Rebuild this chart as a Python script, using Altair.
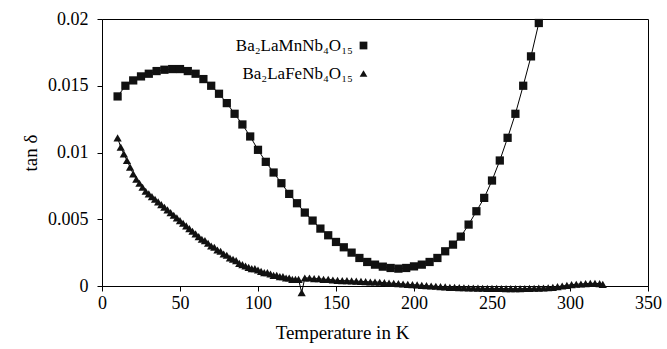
import altair as alt
import pandas as pd

# Ba2LaMnNb4O15 (squares)
mn_T = [10, 15, 20, 25, 30, 35, 40, 45, 50, 55, 60, 65, 70, 75, 80, 85, 90, 95, 100,
        105, 110, 115, 120, 125, 130, 135, 140, 145, 150, 155, 160, 165, 170, 175, 180,
        185, 190, 195, 200, 205, 210, 215, 220, 225, 230, 235, 240, 245, 250, 255, 260,
        265, 270, 275, 280]
mn_tan = [0.0142, 0.0150, 0.0154, 0.0157, 0.0159, 0.0161, 0.0162, 0.01625, 0.01625, 0.0161,
          0.0159, 0.0155, 0.0150, 0.0144, 0.0137, 0.0129, 0.0121, 0.0112, 0.0102,
          0.0093, 0.0085, 0.0077, 0.0069, 0.0062, 0.0055, 0.0049, 0.0043, 0.0038, 0.0033,
          0.0029, 0.0025, 0.0021, 0.0018, 0.0016, 0.00145, 0.00135, 0.0013, 0.00135, 0.00147,
          0.0016, 0.0018, 0.0021, 0.0026, 0.0031, 0.0037, 0.0046, 0.0056, 0.0066, 0.0079,
          0.0094, 0.0111, 0.0129, 0.0150, 0.0172, 0.0197]

# Ba2LaFeNb4O15 (triangles)
fe_T = [10, 12, 14, 16, 18, 20, 22, 24, 26, 28, 30, 32, 34, 36, 38, 40, 42, 44, 46, 48,
        50, 52, 54, 56, 58, 60, 62, 64, 66, 68, 70, 72, 74, 76, 78, 80, 82, 84, 86, 88,
        90, 92, 94, 96, 98, 100, 102, 104, 106, 108, 110, 112, 114, 116, 118, 120, 122,
        124, 126, 128, 130, 133, 136, 139, 142, 145, 148, 151, 154, 157, 160, 163, 166,
        169, 172, 175, 178, 181, 184, 187, 190, 193, 196, 199, 202, 205, 208, 211, 214,
        217, 220, 223, 226, 229, 232, 235, 238, 241, 244, 247, 250, 253, 256, 259, 262,
        265, 268, 271, 274, 277, 280, 283, 286, 289, 292, 295, 298, 301, 304, 307, 310,
        313, 316, 319, 321]
fe_tan = [0.0111, 0.0104, 0.0099, 0.0094, 0.0089, 0.0084, 0.0080, 0.0077, 0.0074, 0.0071,
          0.0069, 0.0067, 0.0065, 0.0063, 0.0061, 0.0059, 0.0057, 0.0055, 0.0053, 0.0051,
          0.0049, 0.0047, 0.0045, 0.0043, 0.0041, 0.0039, 0.0037, 0.0035, 0.0034, 0.0032,
          0.0030, 0.0029, 0.0027, 0.0026, 0.0024, 0.0023, 0.0021, 0.0020, 0.0019, 0.0017,
          0.0016, 0.0015, 0.0014, 0.0013, 0.0013, 0.0012, 0.0011, 0.0010, 0.0010, 0.0009,
          0.0008, 0.0008, 0.0007, 0.0007, 0.0006, 0.0006, 0.0005, 0.0005, 0.0005, -0.0005,
          0.0006, 0.0006, 0.00055, 0.00055, 0.0005, 0.0005, 0.00045, 0.00042, 0.0004, 0.0004,
          0.00038, 0.00036, 0.00035, 0.00033, 0.0003, 0.0003, 0.00028, 0.00025, 0.00022,
          0.0002, 0.00018, 0.00015, 0.00012, 0.0001, 0.00008, 0.00005, 0.00003, 0.0,
          -0.00002, -0.00005, -0.00007, -0.0001, -0.0001, -0.00012, -0.00013, -0.00015,
          -0.00015, -0.00016, -0.00017, -0.00018, -0.00018, -0.00018, -0.00019, -0.0002,
          -0.0002, -0.0002, -0.0002, -0.00019, -0.00018, -0.00017, -0.00016, -0.00015,
          -0.00013, -0.0001, -0.00005, 0.0, 0.00005, 0.0001, 0.00013, 0.00015, 0.00018,
          0.0002, 0.0002, 0.00018, 0.00012]

series_names = ["Ba₂LaMnNb₄O₁₅", "Ba₂LaFeNb₄O₁₅"]
x_ticks = [0, 50, 100, 150, 200, 250, 300, 350]
y_ticks = [0, 0.005, 0.01, 0.015, 0.02]

df = pd.concat([
    pd.DataFrame({"T": mn_T, "tan": mn_tan, "series": series_names[0]}),
    pd.DataFrame({"T": fe_T, "tan": fe_tan, "series": series_names[1]}),
])

FONT = "Liberation Serif"

base = alt.Chart(df).encode(
    x=alt.X("T:Q", scale=alt.Scale(domain=[0, 350], nice=False),
            axis=alt.Axis(values=x_ticks, title="Temperature in K", labelFlush=False,
                          titleX=240, titleY=52, titleBaseline="alphabetic",
                          titleAlign="center")),
    y=alt.Y("tan:Q", scale=alt.Scale(domain=[0, 0.02], nice=False, zero=False),
            axis=alt.Axis(values=y_ticks, title="tan δ", labelExpr="format(datum.value, '.3~f')",
                          labelPadding=9, titleX=-66, titleBaseline="alphabetic")),
)

line = base.mark_line(color="black", strokeWidth=1).encode(detail="series:N", order="T:Q")

pts = base.mark_point(filled=True, opacity=1, size=68, color="#111111").encode(
    shape=alt.Shape("series:N", sort=series_names,
                    scale=alt.Scale(domain=series_names, range=["square", "triangle-up"]),
                    legend=alt.Legend(title=None, orient="none", legendX=253, legendY=18,
                                      labelAlign="right", labelOffset={"expr": "-19"}, padding=0,
                                      labelFont=FONT, labelFontSize=17, labelColor="black",
                                      symbolSize=60, symbolFillColor="#111111",
                                      symbolStrokeColor="#111111", rowPadding=10,
                                      labelLimit=300)),
)

chart = alt.layer(line, pts).properties(
    width=546, height=267,
    padding={"left": 102, "top": 19, "right": 19, "bottom": 63},
    autosize=alt.AutoSizeParams(type="none"),
    background="white",
).configure_view(stroke="black", strokeWidth=1).configure_axis(
    grid=False, domainColor="black", tickColor="black", labelColor="black",
    titleColor="black", labelFont=FONT, titleFont=FONT, labelFontSize=18,
    titleFontSize=19, titleFontWeight="normal", tickSize=5, domainWidth=1,
    labelPadding=3,
)

chart.save("out.html", embed_options={"renderer": "svg", "actions": False})
